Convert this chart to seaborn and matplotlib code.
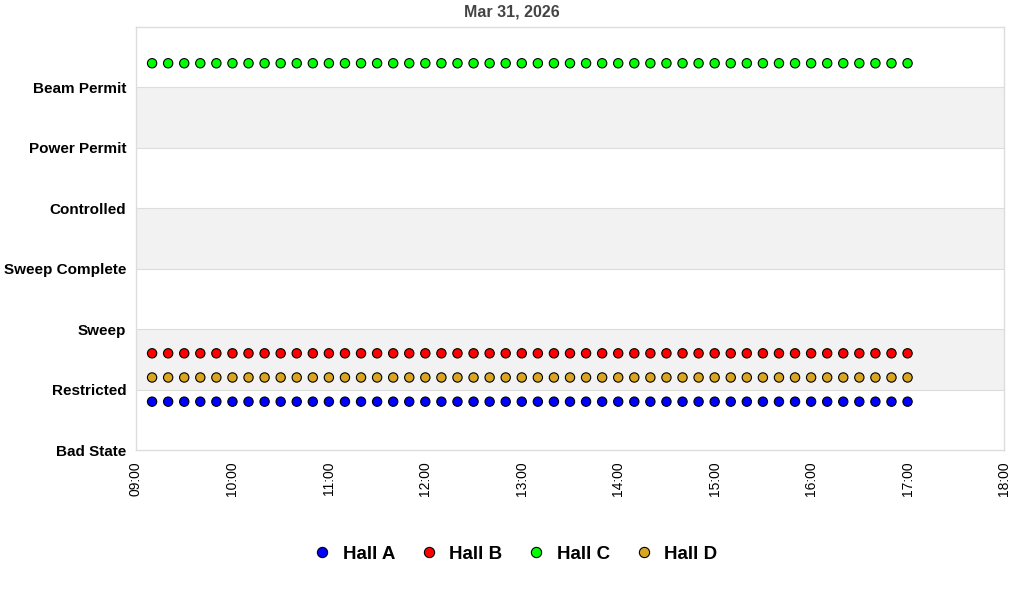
import pandas as pd
import numpy as np
import matplotlib
matplotlib.use("Agg")
import matplotlib.pyplot as plt
import matplotlib.dates as mdates
import seaborn as sns

# data: one sample every 10 minutes, 09:10 -> 17:00
times = pd.date_range("2026-03-31 09:10", "2026-03-31 17:00", freq="10min")
halls = ["Hall A", "Hall B", "Hall C", "Hall D"]
hall_level = {"Hall A": 0.8, "Hall B": 1.6, "Hall C": 6.4, "Hall D": 1.2}
state_labels = ["Bad State", "Restricted", "Sweep", "Sweep Complete",
                "Controlled", "Power Permit", "Beam Permit"]
hall_colors = ["#0000FF", "#FF0000", "#00FF00", "#DAA520"]

df = pd.concat([pd.DataFrame({"time": times, "state": hall_level[h], "hall": h}) for h in halls])

sns.set_style("white")
plt.rcParams['font.family'] = ['Liberation Sans', 'DejaVu Sans']
plt.rcParams['text.color'] = 'black'
plt.rcParams['xtick.color'] = 'black'
plt.rcParams['ytick.color'] = 'black'

fig = plt.figure(figsize=(10.24, 6), dpi=100)
ax = fig.add_axes([136/1024, 150/600, 868/1024, 423/600])

# alternating background bands
for lo in [1, 3, 5]:
    ax.axhspan(lo, lo + 1, color="#f2f2f2", zorder=0, lw=0)
for y in range(1, 7):
    ax.axhline(y, color="#dddddd", lw=0.8, zorder=1)

sns.scatterplot(data=df, x="time", y="state", hue="hall", hue_order=halls,
                palette=hall_colors, s=45, edgecolor="black", linewidth=0.8,
                ax=ax, zorder=3)

ax.set_ylim(0, 7)
ax.set_yticks(range(7))
ax.set_yticklabels(state_labels, fontsize=11, fontweight="bold")
ax.set_xlim(pd.Timestamp("2026-03-31 09:00"), pd.Timestamp("2026-03-31 18:00"))
ax.xaxis.set_major_locator(mdates.HourLocator())
ax.xaxis.set_major_formatter(mdates.DateFormatter("%H:%M"))
plt.setp(ax.get_xticklabels(), rotation=90, fontsize=10)
ax.tick_params(axis="y", length=0, pad=7)
ax.tick_params(axis="x", length=0, pad=8)
ax.set_xlabel("")
ax.set_ylabel("")
for sp in ax.spines.values():
    sp.set_color("#dddddd")
    sp.set_linewidth(1)

fig.text(0.5, 1 - 12/600, "Mar 31, 2026", ha="center", va="center",
         fontsize=11.5, fontweight="bold", color="#444444")

handles, labels = ax.get_legend_handles_labels()
ax.get_legend().remove()
for hd in handles:
    hd.set_markeredgecolor("black")
    hd.set_markeredgewidth(0.8)
fig.legend(handles, labels, loc="center", bbox_to_anchor=(0.503, 1 - 554/600),
           ncol=4, frameon=False, prop={"size": 13.5, "weight": "bold"},
           handlelength=1.0, handletextpad=0.6, columnspacing=1.3, markerscale=1.1)

fig.savefig("out.png", dpi=100)
